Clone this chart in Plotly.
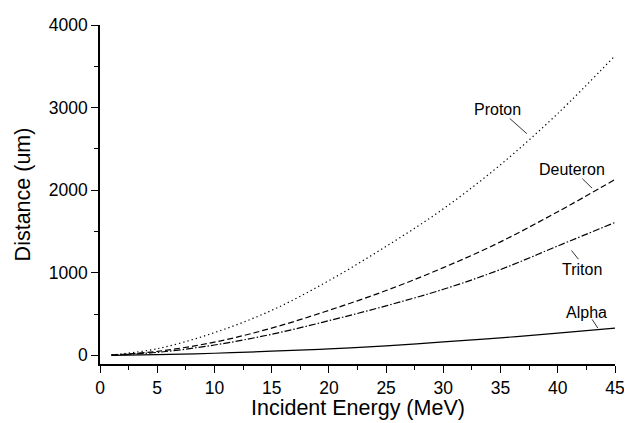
import plotly.graph_objects as go

energy = [1, 5, 10, 15, 20, 25, 30, 35, 40, 45]
proton = [5, 80, 275, 545, 905, 1320, 1775, 2310, 2930, 3630]
deuteron = [3, 48, 160, 330, 545, 785, 1062, 1375, 1740, 2130]
triton = [2, 36, 125, 255, 420, 600, 800, 1040, 1325, 1610]
alpha = [0, 8, 25, 50, 78, 115, 163, 212, 268, 330]
x_ticks = [0, 5, 10, 15, 20, 25, 30, 35, 40, 45]
y_ticks = [0, 1000, 2000, 3000, 4000]

names = ["Proton", "Deuteron", "Triton", "Alpha"]
series = [proton, deuteron, triton, alpha]
dashes = ["1.3px,3px", "6px,3px", "7px,2px,1.5px,2px", "solid"]

# label text positions and leader lines (data coords)
label_pos = [(34.7, 2980), (41.2, 2250), (42.15, 1035), (42.5, 518)]
leaders = [((35.8, 2870), (37.3, 2685)),
           ((42.15, 2140), (43.0, 2025)),
           ((41.2, 1270), (41.8, 1165)),
           ((43.0, 435), (43.5, 330))]

FONT = "Liberation Sans, Arial"
fig = go.Figure()
for n, s, d in zip(names, series, dashes):
    fig.add_trace(go.Scatter(x=energy, y=s, mode="lines", name=n,
                             line=dict(color="black", width=1.2, dash=d, shape="spline")))

for n, (lx, ly) in zip(names, label_pos):
    fig.add_annotation(x=lx, y=ly, text=n, showarrow=False,
                       font=dict(family=FONT, size=16, color="black"))
for (a, b) in leaders:
    fig.add_shape(type="line", x0=a[0], y0=a[1], x1=b[0], y1=b[1],
                  line=dict(color="black", width=0.8))

axis_font = dict(family=FONT, size=17.5, color="black")
title_font = dict(family=FONT, size=21.5, color="black")

# x-axis title as a paper-anchored annotation
fig.add_annotation(x=0.5, y=0, xref="paper", yref="paper", yanchor="middle",
                   yshift=-44, text="Incident Energy (MeV)", showarrow=False,
                   font=title_font)

# the page body has an 8px default margin, so the figure is 8px smaller
fig.update_layout(
    width=624, height=415,
    margin=dict(l=92, r=11, t=7, b=59),
    paper_bgcolor="white", plot_bgcolor="white",
    showlegend=False,
    xaxis=dict(range=[0, 45], tickmode="array", tickvals=x_ticks,
               showgrid=False, zeroline=False, showline=True, linecolor="black", linewidth=1.5,
               ticks="outside", ticklen=7, tickwidth=1.3, tickcolor="black",
               ticklabeloverflow="allow",
               minor=dict(ticks="outside", ticklen=4, dtick=2.5, tickcolor="black", tickwidth=1),
               tickfont=axis_font),
    yaxis=dict(range=[-105, 4002], tickmode="array", tickvals=y_ticks,
               showgrid=False, zeroline=False, showline=True, linecolor="black", linewidth=1.5,
               ticks="outside", ticklen=7, tickwidth=1.3, tickcolor="black",
               ticklabeloverflow="allow",
               minor=dict(ticks="outside", ticklen=4, dtick=500, tickcolor="black", tickwidth=1),
               tickfont=axis_font, title=dict(text="Distance (um)", font=title_font, standoff=12)),
)

fig.write_html("out.html")
